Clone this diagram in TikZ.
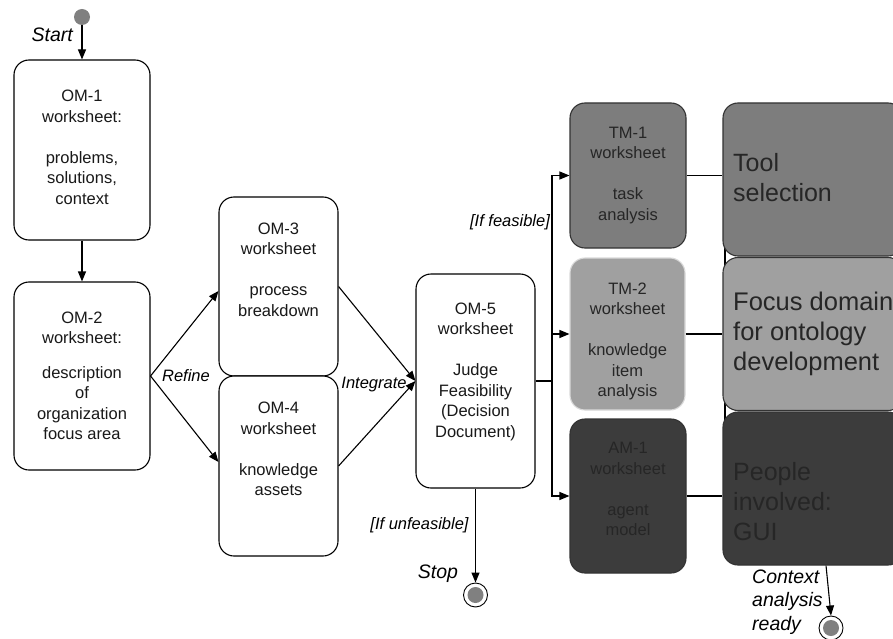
\documentclass[tikz,border=0pt]{standalone}
\usepackage{fontspec}
\setmainfont{Liberation Sans}
\usetikzlibrary{arrows.meta,backgrounds}
\definecolor{gMid}{HTML}{7D7D7D}
\definecolor{gLight}{HTML}{A0A0A0}
\definecolor{gDark}{HTML}{3C3C3C}
\definecolor{txtDark}{HTML}{262626}
\definecolor{dotGray}{HTML}{808080}
% extra depth below the last line pushes a text block upwards
\newcommand\lowpad[1]{\rule[-#1]{0pt}{0pt}}
\tikzset{
  sheet/.style={draw=black, line width=1.1pt, rounded corners=15pt, fill=white,
    text=black!90, align=center, font=\fontsize{16.5}{20.5}\selectfont, inner sep=0pt},
  tmbox/.style={sheet, draw=black!80, text=txtDark},
  bigbox/.style={draw=black!80, line width=1.1pt, rounded corners=15pt,
    minimum width=180pt, inner sep=0pt},
  bigtext/.style={align=left, anchor=west, text=txtDark,
    font=\fontsize{25}{30}\selectfont, inner sep=0pt},
  lbl/.style={font=\itshape\fontsize{16.5}{20}\selectfont, inner sep=0pt},
  biglbl/.style={font=\itshape\fontsize{19.5}{23.5}\selectfont, inner sep=0pt},
  flow/.style={line width=1.1pt, -{Triangle[length=10pt,width=8pt]}},
  link/.style={line width=1.1pt},
}
\begin{document}
\begin{tikzpicture}[x=1pt,y=-1pt]
\useasboundingbox (0,0) rectangle (893,639);
\clip (0,0) rectangle (893,639);

% initial and final states
\node[circle, fill=dotGray, minimum size=16pt, inner sep=0pt] (start) at (82,17) {};
\node[circle, draw=black, line width=0.9pt, fill=white, minimum size=24pt, inner sep=0pt] (stop) at (475.5,595) {};
\node[circle, fill=dotGray, minimum size=16pt, inner sep=0pt] at (stop) {};
\node[circle, draw=black, line width=0.9pt, fill=white, minimum size=24pt, inner sep=0pt] (ready) at (831,628) {};
\node[circle, fill=dotGray, minimum size=16pt, inner sep=0pt] at (ready) {};

% organisation model worksheets
\node[sheet, minimum width=136pt, minimum height=180pt] (om1) at (82,150)
  {OM-1\\worksheet:\\[20.5pt]problems,\\solutions,\\context\lowpad{6pt}};
\node[sheet, minimum width=136pt, minimum height=188pt] (om2) at (82,376)
  {OM-2\\worksheet:\\[14pt]description\\of\\organization\\focus area};
\node[sheet, minimum width=119pt, minimum height=179pt] (om3) at (278.5,286.5)
  {OM-3\\worksheet\\[20.5pt]process\\breakdown\lowpad{34pt}};
\node[sheet, minimum width=119pt, minimum height=180pt] (om4) at (278.5,466)
  {OM-4\\worksheet\\[20.5pt]knowledge\\assets\lowpad{34pt}};
\node[sheet, minimum width=119pt, minimum height=214pt] (om5) at (475.5,381)
  {OM-5\\worksheet\\[20.5pt]Judge\\Feasibility\\(Decision\\Document)\lowpad{22pt}};

% task and agent model worksheets
\node[tmbox, fill=gMid, minimum width=116pt, minimum height=145pt] (tm1) at (628,175.5)
  {TM-1\\worksheet\\[20.5pt]task\\analysis};
\node[tmbox, fill=gLight, draw=black!15, minimum width=115pt, minimum height=152pt] (tm2) at (627.5,334)
  {\rule{0pt}{26pt}TM-2\\worksheet\\[20.5pt]knowledge\\item\\analysis};
\node[tmbox, fill=gDark, minimum width=116pt, minimum height=154pt] (am1) at (628,496)
  {AM-1\\worksheet\\[20.5pt]agent\\model\lowpad{14pt}};

% results
\node[bigbox, fill=gMid, minimum height=153pt] (tool) at (813,179.5) {};
\node[bigbox, fill=gLight, minimum height=153pt] (focus) at (813,334) {};
\node[bigbox, fill=gDark, minimum height=153pt] (people) at (813,488.5) {};
\begin{scope}[on background layer]
  \draw[link] ([xshift=2.5pt,yshift=20pt]tool.south west) -- ([xshift=2.5pt,yshift=-20pt]people.north west);
\end{scope}
\node[bigtext] (tooltxt) at (733,178) {Tool\\selection};
\node[bigtext, font=\fontsize{25.5}{30}\selectfont] (focustxt) at (733,334) {Focus domain\\for ontology\\development};
\node[bigtext] (peopletxt) at (733,502) {People\\involved:\\GUI};

% control flow
\draw[flow] (start) -- (om1.north);
\draw[flow] (om1.south) -- (om2.north);
\draw[flow] (om2.east) -- ([yshift=-4.5pt]om3.west);
\draw[flow] (om2.east) -- ([yshift=4pt]om4.west);
\draw[flow] (om3.east) -- (om5.west);
\draw[flow] (om4.east) -- (om5.west);
\coordinate (split) at (552,381);
\draw[link] (om5.east) -- (split);
\draw[flow] (split) |- (tm1.west);
\draw[flow] (split) |- (tm2.west);
\draw[flow] (split) |- (am1.west);
\draw[flow] (om5.south) -- (stop.north);
\draw[link] (tm1.east) -- (tm1.east -| tool.west);
\draw[link] (tm2.east) -- (tm2.east -| focus.west);
\draw[link] (am1.east) -- (am1.east -| people.west);
\draw[flow] ([xshift=13pt]people.south) -- (ready.north);

% labels
\node[biglbl, anchor=east] (lstart) at (73,35) {Start};
\node[lbl] (lrefine) at (186,376) {Refine};
\node[lbl] (lint) at (374,385) {Integrate};
\node[lbl] (lfeas) at (510,222) {[If feasible]};
\node[lbl] (lunfeas) at (419.5,525) {[If unfeasible]};
\node[biglbl] (lstop) at (438,574) {Stop};
\node[biglbl, align=left, anchor=west] (lready) at (752,602) {Context\\analysis\\ready};
\end{tikzpicture}
\end{document}
